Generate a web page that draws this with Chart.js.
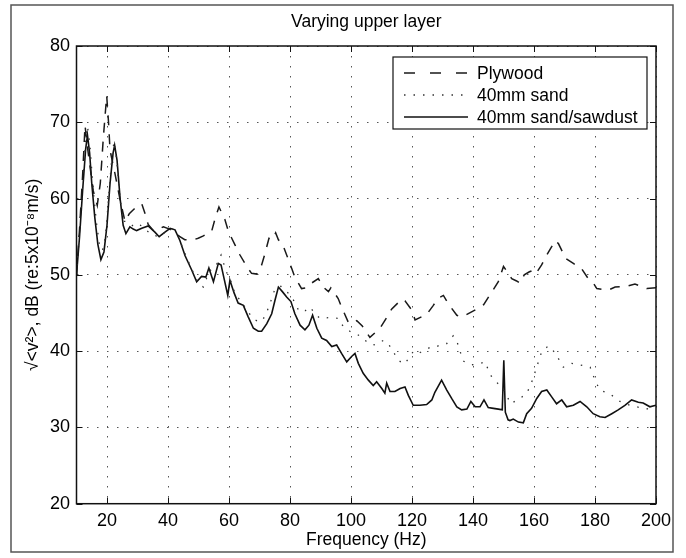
<!DOCTYPE html>
<html>
<head>
<meta charset="UTF-8">
<title>Varying upper layer</title>
<script src="https://cdn.jsdelivr.net/npm/chart.js"></script>
<style>
  html, body { margin: 0; padding: 0; background: #fff; }
  #chart { display: block; }
</style>
</head>
<body>
<canvas id="chart" width="686" height="558"></canvas>
<script>
// series names
const seriesNames = ['Plywood', '40mm sand', '40mm sand/sawdust'];

// Plywood (dashed)
const plyFreq = [10, 11, 12, 12.8, 13.5, 14.5, 15.5, 16.8, 17.8, 18.8, 19.9, 20.5, 21, 22.6, 24.3, 25.9, 27.3, 28.8, 30.3, 31.4,
  32.5, 33.5, 35.2, 37, 38.5, 40.5, 42.3, 43.9, 45.5, 48.3, 49.9, 51.6, 53.2, 54.3, 55.6, 56.7, 58.7, 59.8, 62, 63.6,
  65.8, 67.4, 69.1, 70.7, 71.8, 73.1, 74.2, 75.3, 76.2, 77.5, 78.9, 80.6, 81.6, 83.8, 85.5, 86.6, 89.3, 90.9, 92.6, 93.4,
  95.8, 96.9, 99.1, 100.2, 101.9, 103.7, 106.2, 108.4, 109.5, 111.7, 113.3, 116.6, 117.7, 119.9, 121, 124.8, 127, 128.5, 130.3, 131.9,
  134.7, 136.3, 137.4, 141.2, 143.5, 146.4, 148.3, 150, 151.6, 152.7, 154.3, 155.4, 156.8, 158.5, 159.8, 160.7, 162.5, 164.2, 165.8, 166.9,
  168, 169.1, 170.2, 172.9, 175.6, 177.8, 179.5, 180.6, 184.4, 186.6, 190.4, 193.1, 197, 200];
const plyDb = [50, 56, 63, 69.6, 67, 64, 61, 59.1, 62, 68, 73.5, 70, 66.3, 63.3, 59.8, 57, 58, 58.6, 59.1, 59.3,
  58, 56.6, 55.8, 56, 56.3, 56, 55.6, 55, 54.6, 54.6, 54.8, 55.1, 55.5, 55.7, 57.6, 58.9, 57.2, 55.7, 53.9, 52.6,
  51.1, 50.2, 50.1, 51.3, 52.8, 54.8, 54.6, 55.5, 54.6, 54.1, 52.6, 50.8, 49.7, 48.2, 48.3, 48.8, 49.5, 48.4, 47.8, 48.3,
  46.9, 45.8, 43.8, 43.6, 44, 43.3, 41.8, 42.6, 43, 44.4, 45.5, 46.8, 46.6, 45.4, 44.1, 44.8, 46, 46.9, 47.3, 46.2,
  44.7, 44.5, 44.7, 45.5, 46.1, 47.9, 49.1, 51.1, 50.2, 49.5, 49.2, 48.9, 50, 50.4, 50.6, 50.2, 51.3, 52.6, 53.7, 54.5,
  54.1, 53.2, 52.2, 51.5, 50.8, 49.5, 48.9, 48.2, 48, 48.4, 48.5, 48.8, 48.2, 48.3];

// 40mm sand (dotted)
const sandFreq = [10, 11, 12, 13, 13.6, 14.4, 15.5, 16.5, 17.5, 18.5, 19.5, 20.5, 21.5, 22.3, 23.2, 24.3, 25.5, 27, 29, 31,
  33, 35, 37.4, 39.5, 41.5, 43.5, 45, 47.5, 49.9, 51.6, 53.5, 55.5, 57.4, 59, 60.5, 62, 64, 66, 68, 70,
  71.8, 73.5, 75.1, 77, 79, 81, 83, 85, 86.6, 88, 89.8, 93.1, 95.8, 97.5, 100, 102, 104, 105.7, 107.9, 110.6,
  112.2, 113.9, 115.5, 117.5, 118.8, 120.5, 122.1, 124.5, 126.5, 128.1, 130.3, 131.4, 133.5, 134.7, 136.8, 139.3, 141.5, 144, 145.6, 147,
  150.2, 152.4, 154.9, 157.6, 159.5, 161.2, 162.5, 164.7, 166.9, 169.6, 172.4, 175.1, 178.4, 180, 181.6, 184.9, 188.2, 191.5, 195.8, 200];
const sandDb = [50, 56, 62, 67.5, 69.5, 67, 61, 57, 54, 53.2, 55, 60, 65, 67.5, 65, 60, 57, 57, 56.2, 56.5,
  55.8, 55.2, 55, 55.8, 56, 55, 53.3, 51, 48.9, 48.4, 50.5, 51, 52.6, 50.5, 49.3, 47.5, 46.5, 45.3, 44.2, 43.8,
  44.5, 46.3, 48.2, 48.5, 47.8, 46.8, 45.2, 45.3, 45.8, 45, 44.3, 44.4, 44.3, 43.2, 42.5, 42.2, 41.7, 41, 40.8, 41.4,
  41, 39.9, 38.8, 38.3, 39, 40, 39.7, 40.2, 40.6, 40.6, 41, 41, 42, 41.3, 38.7, 38.2, 38.3, 38.6, 36.9, 36.3,
  34.8, 33.1, 33.7, 34.4, 36.2, 38.3, 39.9, 40.7, 39.8, 37.9, 38.4, 38.2, 37.9, 36.2, 34.9, 34.4, 33.4, 32.9, 32.5, 32.3];

// 40mm sand/sawdust (solid)
const sawFreq = [10, 11, 12, 13, 13.6, 14.3, 15, 16, 17, 18, 19, 20, 21, 22, 22.5, 23.3, 24.3, 25.3, 26.2, 27.5,
  28.6, 29.7, 31.4, 33.5, 35.7, 37.1, 39, 40.7, 42.3, 43.9, 45.6, 47.8, 49.4, 51, 52.4, 53.4, 54.9, 56.5, 57.4, 58.5,
  59.6, 60.3, 61.7, 63, 64.7, 66.3, 68, 69.6, 70.7, 72.4, 74, 75.1, 76.2, 77.5, 78.9, 80.3, 81.6, 83.3, 84.9, 86.2,
  87.4, 88.8, 90.4, 92, 93.7, 95.3, 96.9, 98.6, 100.2, 101.3, 102.4, 104, 105.7, 107.3, 108.4, 110.1, 111.1, 111.7, 112.8, 114.4,
  116.1, 117.7, 118.8, 120.4, 122.6, 124.8, 126.5, 127.5, 129.7, 131.4, 133, 134.7, 136.3, 138, 139.3, 140.7, 142.3, 143.6, 145, 146.7,
  148.3, 149.6, 150.1, 150.6, 151.5, 152.1, 153.2, 154.9, 156.5, 157.6, 159.2, 160.9, 162.5, 164.2, 165.8, 167.4, 169.1, 170.7, 172.9, 175.1,
  177.3, 179.4, 181.6, 183.3, 185.5, 187.6, 189.8, 192, 194.2, 195.8, 198, 200];
const sawDb = [50, 55, 61, 66.5, 68.3, 66, 62, 57.5, 54, 52, 53, 56.5, 62, 66, 67, 65, 60, 56.5, 55.4, 56.3,
  56, 55.8, 56.1, 56.4, 55.6, 55, 55.6, 56.1, 55.9, 54.5, 52.5, 50.6, 49.1, 49.8, 49.7, 50.9, 49.1, 51.5, 51.3, 49.3,
  47.3, 49.3, 47.6, 46.3, 46, 44.5, 43, 42.6, 42.6, 43.6, 44.9, 46.7, 48.4, 47.8, 47.1, 46.5, 44.9, 43.4, 42.8, 43.4,
  44.7, 43, 41.7, 41.4, 40.6, 40.8, 39.7, 38.6, 39.3, 39.7, 38.4, 37.1, 36.2, 35.5, 36, 35.1, 34.5, 35.8, 34.7, 34.7,
  35.1, 35.3, 34.2, 32.9, 32.9, 33, 33.6, 34.6, 36.2, 34.9, 33.8, 32.7, 32.3, 32.4, 33.4, 32.7, 32.7, 33.6, 32.6, 32.5,
  32.4, 32.3, 38.8, 32, 31, 30.9, 31.1, 30.7, 30.6, 31.8, 32.5, 33.8, 34.7, 34.9, 34, 33.1, 33.6, 32.7, 32.9, 33.4,
  32.7, 31.8, 31.4, 31.3, 31.8, 32.3, 32.9, 33.6, 33.3, 33.2, 32.7, 32.9];

// tick labels
const xTicks = [20, 40, 60, 80, 100, 120, 140, 160, 180, 200];
const yTicks = [20, 30, 40, 50, 60, 70, 80];

const FONT = "'Liberation Sans', Arial, Helvetica, sans-serif";
Chart.defaults.font.family = FONT;
Chart.defaults.color = '#000';

const toPts = (xs, ys) => xs.map((x, i) => ({x: x, y: ys[i]}));

// figure frame, title, axes box with inward ticks, legend box
const matlabLook = {
  id: 'matlabLook',
  beforeDraw(chart) {
    const {ctx} = chart;
    ctx.save();
    ctx.fillStyle = '#fff';
    ctx.fillRect(0, 0, chart.width, chart.height);
    ctx.strokeStyle = '#555';
    ctx.lineWidth = 1.5;
    ctx.strokeRect(11, 5, 662, 547);
    ctx.restore();
  },
  afterDraw(chart) {
    const {ctx, chartArea: a, scales: {x, y}} = chart;
    ctx.save();
    // title
    ctx.font = '17.5px ' + FONT;
    ctx.fillStyle = '#000';
    ctx.textAlign = 'center';
    ctx.textBaseline = 'middle';
    ctx.fillText('Varying upper layer', (a.left + a.right) / 2, 22);

    // axes box
    ctx.strokeStyle = '#111';
    ctx.lineWidth = 1.5;
    ctx.strokeRect(a.left, a.top, a.right - a.left, a.bottom - a.top);

    // inward ticks on all four sides
    ctx.lineWidth = 1;
    ctx.beginPath();
    xTicks.forEach(v => {
      const px = Math.round(x.getPixelForValue(v)) + 0.5;
      ctx.moveTo(px, a.bottom); ctx.lineTo(px, a.bottom - 6);
      ctx.moveTo(px, a.top); ctx.lineTo(px, a.top + 6);
    });
    yTicks.forEach(v => {
      const py = Math.round(y.getPixelForValue(v)) + 0.5;
      ctx.moveTo(a.left, py); ctx.lineTo(a.left + 6, py);
      ctx.moveTo(a.right, py); ctx.lineTo(a.right - 6, py);
    });
    ctx.stroke();

    // legend
    const bx = 393, by = 57, bw = 254, bh = 72;
    ctx.fillStyle = '#fff';
    ctx.fillRect(bx, by, bw, bh);
    ctx.strokeStyle = '#111';
    ctx.lineWidth = 1.2;
    ctx.strokeRect(bx, by, bw, bh);
    const rows = [73, 95, 117];
    chart.data.datasets.forEach((ds, i) => {
      const ry = rows[i];
      ctx.strokeStyle = ds.borderColor;
      ctx.lineWidth = ds.borderWidth;
      ctx.setLineDash(i === 0 ? [11, 15] : (ds.borderDash || []));
      ctx.beginPath();
      ctx.moveTo(404, ry);
      ctx.lineTo(468, ry);
      ctx.stroke();
      ctx.setLineDash([]);
      ctx.fillStyle = '#000';
      ctx.textAlign = 'left';
      ctx.fillText(ds.label, 477, ry + 1);
    });
    ctx.restore();
  }
};

new Chart(document.getElementById('chart'), {
  type: 'line',
  data: {
    datasets: [
      {label: seriesNames[0], data: toPts(plyFreq, plyDb), borderColor: '#1a1a1a', borderWidth: 1.5, borderDash: [10, 9]},
      {label: seriesNames[1], data: toPts(sandFreq, sandDb), borderColor: '#333', borderWidth: 1.3, borderDash: [1.5, 8]},
      {label: seriesNames[2], data: toPts(sawFreq, sawDb), borderColor: '#111', borderWidth: 1.6}
    ]
  },
  options: {
    responsive: false,
    animation: false,
    events: [],
    layout: {padding: {top: 46, right: 30, left: 0, bottom: 0}},
    elements: {point: {radius: 0}, line: {tension: 0, fill: false}},
    plugins: {legend: {display: false}, tooltip: {enabled: false}, title: {display: false}},
    scales: {
      x: {
        type: 'linear',
        min: 10,
        max: 200,
        afterBuildTicks: s => { s.ticks = xTicks.map(v => ({value: v})); },
        afterFit: s => { s.height = 54.3; },
        ticks: {font: {size: 18}, color: '#000', padding: 7, maxRotation: 0, callback: v => String(v)},
        grid: {color: '#555', lineWidth: 1, drawTicks: false},
        border: {display: false, dash: [1.5, 8.5]},
        title: {display: true, text: 'Frequency (Hz)', font: {size: 17.5}, color: '#000', padding: {top: 0, bottom: 7}}
      },
      y: {
        min: 20,
        max: 80,
        afterBuildTicks: s => { s.ticks = yTicks.map(v => ({value: v})); },
        afterFit: s => { s.width = 76.5; },
        ticks: {font: {size: 18}, color: '#000', padding: 6.5},
        grid: {color: '#555', lineWidth: 1, drawTicks: false},
        border: {display: false, dash: [1.5, 8.5]},
        title: {display: true, text: '√<v²>, dB (re:5x10⁻⁸m/s)', font: {size: 17.5}, color: '#000', padding: {top: 23, bottom: 0}}
      }
    }
  },
  plugins: [matlabLook]
});
</script>
</body>
</html>
